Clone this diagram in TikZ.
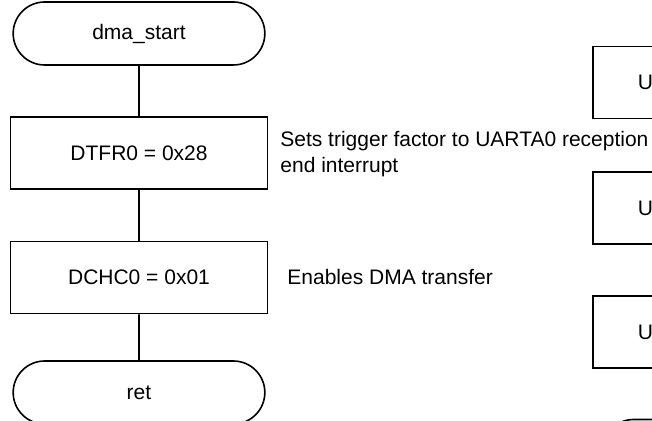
\documentclass[tikz,border=0pt]{standalone}
\usepackage{fontspec}
\setmainfont{Liberation Sans}
\usetikzlibrary{shapes.misc}

\begin{document}
\begin{tikzpicture}[x=0.5pt,y=-0.5pt,font=\fontsize{10.5pt}{13pt}\selectfont,
    term/.style={draw,line width=0.8pt,rounded rectangle,minimum width=132.5pt,minimum height=31.5pt},
    proc/.style={draw,line width=0.8pt,rectangle,minimum width=128.5pt,minimum height=36pt},
    uproc/.style={proc,anchor=west,align=left,text width=83.5pt,inner xsep=22.5pt},
    note/.style={anchor=west,align=left,inner sep=0pt}]
      \useasboundingbox (0,0) rectangle (652,421);
      \clip (0,0) rectangle (652,421);
      \node[term] (start) at (139,33.5) {dma\_start};
      \node[proc] (dtfr) at (139,153) {DTFR0 = 0x28};
      \node[proc] (dchc) at (139,277.5) {DCHC0 = 0x01};
      \node[term] (ret) at (139,392.5) {ret};
      \node[note] (dtfrnote) at (280,154) {Sets trigger factor to UARTA0 reception\\end interrupt};
      \node[note] (dchcnote) at (287,277) {Enables DMA transfer};
      \node[uproc] (ua) at (592,82.5) {U};
      \node[uproc] (ub) at (592,208) {U};
      \node[uproc] (uc) at (592,332) {U};
      \node[term] (uret) at (728,451) {};
      \draw[line width=0.8pt] (start) -- (dtfr);
      \draw[line width=0.8pt] (dtfr) -- (dchc);
      \draw[line width=0.8pt] (dchc) -- (ret);
    \end{tikzpicture}
\end{document}
